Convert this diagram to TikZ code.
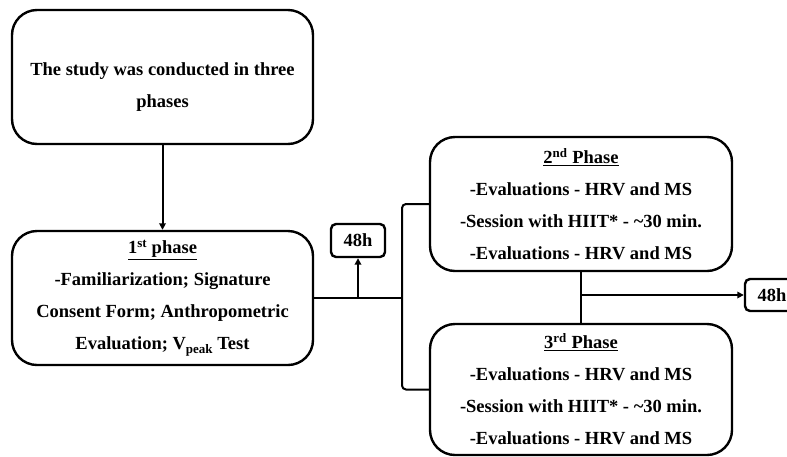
\documentclass[tikz,border=0pt]{standalone}
\usepackage{fontspec}
\setmainfont{Liberation Serif}
\usetikzlibrary{arrows.meta}
\newcommand{\subpk}{\raisebox{-0.45ex}{\fontsize{13}{13}\selectfont peak}}
\begin{document}
\begin{tikzpicture}[x=1pt,y=-1pt,
 txt/.style={align=center, font=\fontsize{18.5}{32}\selectfont\bfseries, inner sep=0pt},
 box/.style={draw, line width=2.4pt, rounded corners=25pt, txt},
 tag/.style={draw, line width=2.4pt, rounded corners=5pt, minimum width=54pt,
   minimum height=33pt, inner sep=0pt, font=\fontsize{18.5}{20}\selectfont\bfseries},
 conn/.style={line width=2pt},
 arr/.style={conn, -{Triangle[width=6.5pt,length=6.5pt]}}]
\useasboundingbox (0,0) rectangle (787,456);
\node[box, minimum width=301pt, minimum height=134pt] (intro) at (162.5,77) {};
\node[txt] (introtext) at (162.5,87) {The study was conducted in three\\phases};
\node[box, minimum width=301pt, minimum height=134pt] (p1) at (162.5,298)
  {\underline{1\textsuperscript{st} phase}\\-Familiarization; Signature\\Consent Form; Anthropometric\\Evaluation; V\subpk{} Test};
\node[tag] (t1) at (358,240.5) {48h};
\node[box, minimum width=302pt, minimum height=134pt] (p2) at (581,204)
  {\underline{2\textsuperscript{nd} Phase}\\-Evaluations - HRV and MS\\-Session with HIIT* - \textasciitilde30 min.\\-Evaluations - HRV and MS};
\node[box, minimum width=302pt, minimum height=131pt] (p3) at (581,389.5)
  {\underline{3\textsuperscript{rd} Phase}\\-Evaluations - HRV and MS\\-Session with HIIT* - \textasciitilde30 min.\\-Evaluations - HRV and MS};
\node[tag, minimum height=32pt] (t2) at (772,295) {48h};
\coordinate (bx) at (402,298);
\draw[arr] (intro.south) -- (p1.north);
\draw[conn] (p1.east) -- (bx);
\draw[conn, rounded corners=4pt] (p2.west) -| (bx) |- (p3.west);
\draw[arr] (p1.east -| t1.south) -- (t1.south);
\draw[conn] (p2.south) -- (p3.north);
\draw[arr] (t2.west -| p2.south) -- (t2.west);
\end{tikzpicture}
\end{document}
